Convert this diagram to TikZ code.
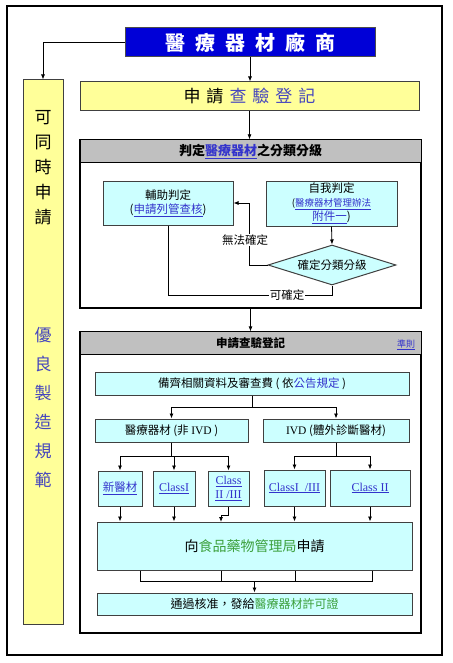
\documentclass[tikz,border=0pt]{standalone}
\usepackage{fontspec}
\setmainfont{Liberation Serif}
\newfontfamily\cjk{Noto Sans CJK TC}
\usetikzlibrary{positioning,arrows.meta,shapes.geometric,calc}
\definecolor{makerblue}{RGB}{0,0,215}
\definecolor{gmpyellow}{RGB}{255,255,153}
\definecolor{boxcyan}{RGB}{204,255,255}
\definecolor{headgray}{RGB}{192,192,192}
\definecolor{linkblue}{RGB}{51,51,204}
\definecolor{regblue}{RGB}{70,70,190}
\definecolor{fdagreen}{RGB}{60,160,60}
\newcommand{\lnk}[1]{\textcolor{linkblue}{\underline{#1}}}
\newcommand{\tgap}{\hspace{10pt}}
\newcommand{\ygap}{\hspace{6pt}}
\tikzset{
titlebox/.style={
draw=black!70,
line width=1pt,
fill=makerblue,
text=white,
font=\cjk\bfseries\fontsize{20}{22}\selectfont
},
yellowbox/.style={
draw=black!75,
line width=1pt,
fill=gmpyellow,
font=\cjk\fontsize{17}{18}\selectfont
},
gmptext/.style={
align=center,
inner sep=0pt
},
panel/.style={
draw,
line width=1.3pt,
fill=white
},
header/.style={
draw,
line width=1pt,
fill=headgray,
inner sep=1pt,
font=\cjk\bfseries\fontsize{13}{15}\selectfont
},
stepbox/.style={
draw=black!75,
line width=1pt,
fill=boxcyan,
align=center,
inner sep=1pt,
font=\cjk\fontsize{11.5}{14}\selectfont
},
classbox/.style={
stepbox,
font=\rmfamily\fontsize{12}{14}\selectfont
},
decision/.style={
diamond,
draw=black!75,
line width=1pt,
fill=boxcyan,
aspect=3.2,
inner sep=0pt,
minimum width=128,
minimum height=40,
font=\cjk\fontsize{11.5}{14}\selectfont
},
note/.style={
fill=white,
inner sep=1pt,
font=\cjk\fontsize{11.5}{14}\selectfont
},
arrow/.style={
-{Latex[length=5pt,width=4pt]},
line width=0.8pt
},
line/.style={
line width=0.8pt
}
}
\begin{document}
\begin{tikzpicture}[x=1pt,y=-1pt]
\useasboundingbox (0,0) rectangle (452,663);
\draw[line width=1.5pt] (7,6) rectangle (442,655);

% manufacturer and registration
\node[titlebox,minimum width=250,minimum height=29](maker) at (250,42.5){醫\tgap 療\tgap 器\tgap 材\tgap 廠\tgap 商};
\node[yellowbox,minimum width=339,minimum height=29](apply) at (249.5,96.5){申\ygap 請\ygap\textcolor{regblue}{查\ygap 驗\ygap 登\ygap 記}};
\node[yellowbox,minimum width=40,minimum height=544](gmp) at (43,352){};
\node[gmptext,font=\cjk\fontsize{17}{25}\selectfont](gmpa) at (43,168){可\\同\\時\\申\\請};
\node[gmptext,text=regblue,font=\cjk\fontsize{17}{29}\selectfont](gmpb) at (43,408){優\\良\\製\\造\\規\\範};

\draw[arrow](maker.west) -| (gmp.north);
\draw[arrow](maker.south) -- (maker.south |- apply.north);

% classification panel
\node[panel,minimum width=341,minimum height=168](panel1) at (250.5,224){};
\node[header,anchor=north,minimum width=341,minimum height=23](head1) at (panel1.north){判定\lnk{醫療器材}之分類分級};
\node[stepbox,minimum width=130,minimum height=44](aux) at (168,203){輔助判定\\(\lnk{申請列管查核})};
\node[stepbox,minimum width=131,minimum height=45](self) at (331.5,203.5){自我判定\\\fontsize{9.5}{12}\selectfont(\lnk{醫療器材管理辦法}\\\lnk{附件一})};
\node[decision](decide) at (332,265){確定分類分級};

\draw[arrow](apply.south) -- (apply.south |- panel1.north);
\draw[arrow](self.south) -- (decide.north);
\draw[arrow](decide.west) -- ++(-18,0) |- (aux.east);
\node[note](unsure) at (245,240){無法確定};
\coordinate (sure) at (332,295);
\draw[line](aux.south) |- (sure) -- (decide.south);
\node[note](surelbl) at (287,295){可確定};

% registration panel
\node[panel,minimum width=341,minimum height=301](panel2) at (250.5,482.5){};
\node[header,anchor=north,minimum width=341,minimum height=23,font=\cjk\bfseries\fontsize{11.5}{14}\selectfont](head2) at (panel2.north){申請查驗登記};
\node[text=linkblue,inner sep=0pt,font=\cjk\fontsize{9}{11}\selectfont](rule) at (406,345){\underline{準則}};
\draw[arrow](panel1.south) -- (panel2.north);

\node[stepbox,minimum width=314,minimum height=23](prep) at (252,383.5){備齊相關資料及審查費 ( 依\textcolor{linkblue}{公告規定} )};
\node[stepbox,minimum width=153,minimum height=23](nonivd) at (171.5,430.5){醫療器材 (非 {\rmfamily IVD} )};
\node[stepbox,minimum width=146,minimum height=23](ivd) at (336,430.5){{\rmfamily IVD} (體外診斷醫材)};

\node[stepbox,minimum width=44,minimum height=35](newdev) at (120,488.5){\lnk{新醫材}};
\node[classbox,minimum width=42,minimum height=35](clsone) at (174,488.5){\lnk{ClassI}};
\node[classbox,minimum width=41,minimum height=35](clstwothree) at (228.5,488.5){\lnk{Class}\\\lnk{II /III}};
\node[classbox,minimum width=61,minimum height=36](ivdonethree) at (294.5,488){\lnk{ClassI\ \ /III}};
\node[classbox,minimum width=80,minimum height=36](ivdtwo) at (370,488){\lnk{Class II}};

\node[stepbox,minimum width=315,minimum height=48,font=\cjk\fontsize{14}{16}\selectfont](fda) at (254.5,546){向\textcolor{fdagreen}{食品藥物管理局}申請};
\node[stepbox,minimum width=315,minimum height=22,font=\cjk\fontsize{12}{14}\selectfont](license) at (254.5,604){通過核准，發給\textcolor{fdagreen}{醫療器材許可證}};

\draw[arrow](prep.south) -- ++(0,12) -| (nonivd.north);
\draw[arrow](prep.south) -- ++(0,12) -| (ivd.north);
\foreach \n in {newdev,clsone,clstwothree}
\draw[arrow](nonivd.south) -- ++(0,14) -| (\n.north);
\foreach \n in {ivdonethree,ivdtwo}
\draw[arrow](ivd.south) -- ++(0,14) -| (\n.north);
\foreach \n in {newdev,clsone,ivdonethree,ivdtwo}
\draw[arrow](\n.south) -- (\n.south |- fda.north);
\coordinate (fdain) at (221,522);
\draw[arrow](clstwothree.south) -- ++(0,9) -| (fdain);

\coordinate (merge) at ($(fda.south)+(0,11)$);
\foreach \dx in {-114.5,-33.5,40.5,117.5}
\draw[line]($(fda.south)+(\dx,0)$) -- ++(0,11);
\draw[line]($(merge)+(-114.5,0)$) -- ($(merge)+(117.5,0)$);
\draw[arrow](merge) -- (license.north);
\end{tikzpicture}
\end{document}
